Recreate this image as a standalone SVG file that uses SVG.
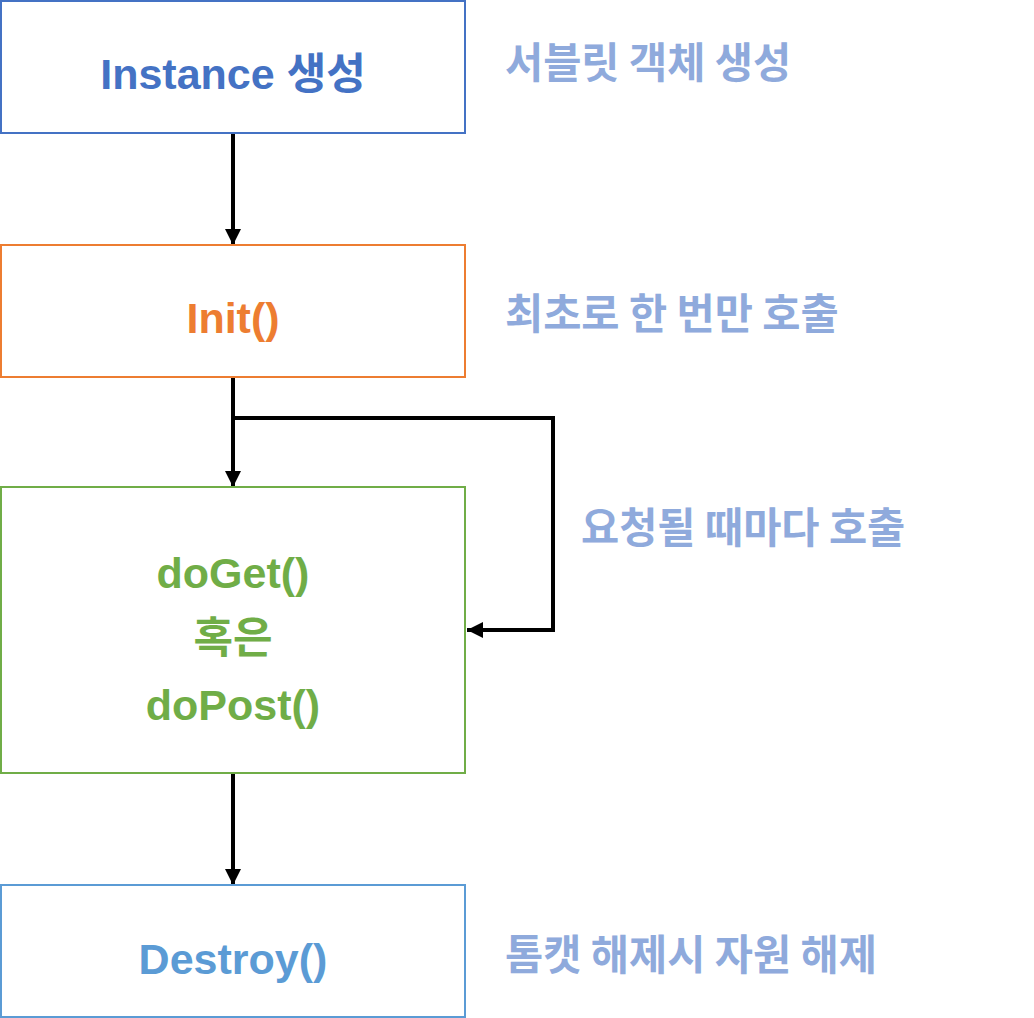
<svg xmlns="http://www.w3.org/2000/svg" width="1034" height="1018" viewBox="0 0 1034 1018">
<defs>
<style>
.box{fill:#fff;stroke-width:2}
.t{font-family:"Liberation Sans","Noto Sans CJK KR",sans-serif;font-weight:bold;font-size:43px;text-anchor:middle}
.k{font-family:"Noto Sans CJK KR",sans-serif;font-weight:bold;font-size:41.5px;fill:#8FAADC}
.c{fill:none;stroke:#000;stroke-width:4}
</style>
<marker id="ah" markerUnits="userSpaceOnUse" markerWidth="16" markerHeight="16" viewBox="0 0 16 16" refX="16" refY="8" orient="auto">
<path d="M0,0 L16,8 L0,16 Z" fill="#000"/>
</marker>
</defs>
<rect width="1034" height="1018" fill="#fff"/>
<g id="connectors">
<line class="c" x1="233" y1="133" x2="233" y2="245" marker-end="url(#ah)"/>
<line class="c" x1="233" y1="377" x2="233" y2="487" marker-end="url(#ah)"/>
<polyline class="c" points="233,418 553,418 553,630 467,630" marker-end="url(#ah)"/>
<line class="c" x1="233" y1="773" x2="233" y2="885" marker-end="url(#ah)"/>
</g>
<g id="node-instance">
<rect class="box" x="1" y="1" width="464" height="132" stroke="#4472C4"/>
<text class="t" x="233" y="89" fill="#4472C4">Instance 생성</text>
</g>
<g id="node-init">
<rect class="box" x="1" y="245" width="464" height="132" stroke="#ED7D31"/>
<text class="t" x="233" y="333" fill="#ED7D31">Init()</text>
</g>
<g id="node-service">
<rect class="box" x="1" y="487" width="464" height="286" stroke="#70AD47"/>
<text class="t" x="233" y="588" fill="#70AD47">doGet()</text>
<text class="t" x="233" y="653" fill="#70AD47">혹은</text>
<text class="t" x="233" y="720" fill="#70AD47">doPost()</text>
</g>
<g id="node-destroy">
<rect class="box" x="1" y="885" width="464" height="132" stroke="#5B9BD5"/>
<text class="t" x="233" y="974" fill="#5B9BD5">Destroy()</text>
</g>
<g id="labels">
<text class="k" x="505" y="78">서블릿 객체 생성</text>
<text class="k" x="505" y="329">최초로 한 번만 호출</text>
<text class="k" x="581" y="543">요청될 때마다 호출</text>
<text class="k" x="505" y="970">톰캣 해제시 자원 해제</text>
</g>
</svg>
